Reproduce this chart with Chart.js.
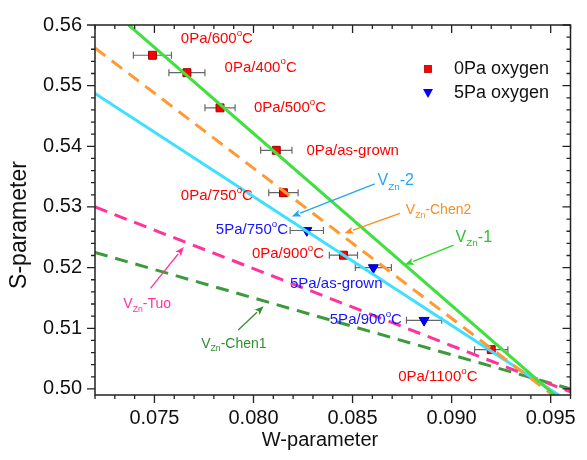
<!DOCTYPE html>
<html><head><meta charset="utf-8">
<script src="https://cdn.jsdelivr.net/npm/chart.js@4/dist/chart.umd.min.js"></script>
<style>html,body{margin:0;padding:0;background:#fff}</style>
</head><body>
<canvas id="c" width="587" height="460" style="width:587px;height:460px;display:block"></canvas>
<script>
// ---------- data ----------
const W_0Pa   = [0.07490, 0.07664, 0.07831, 0.08115, 0.08151, 0.08454, 0.09200];
const S_0Pa   = [0.55501, 0.55214, 0.54634, 0.53934, 0.53235, 0.52205, 0.50648];
const Werr_0Pa= [0.00096, 0.00091, 0.00076, 0.00079, 0.00074, 0.00071, 0.00084];
const W_5Pa   = [0.08269, 0.08605, 0.08861];
const S_5Pa   = [0.52612, 0.52000, 0.51131];
const Werr_5Pa= [0.00084, 0.00091, 0.00089];

const line_VZn1   = [[0.0737, 0.5600], [0.0952, 0.4990]];
const line_Chen2  = [[0.0720, 0.5562], [0.0951, 0.4990]];
const line_VZn2   = [[0.0720, 0.5487], [0.0954, 0.4990]];
const line_Tuo    = [[0.0720, 0.5300], [0.0960, 0.4995]];
const line_Chen1  = [[0.0720, 0.5225], [0.0960, 0.5000]];

const xTickLabels = [0.075, 0.080, 0.085, 0.090, 0.095];
const yTickLabels = [0.50, 0.51, 0.52, 0.53, 0.54, 0.55, 0.56];
const legendNames = ['0Pa oxygen', '5Pa oxygen'];

// point labels (data-space anchor: left edge, vertical centre)
const pointLabels = [
  {seg:[['0Pa/600'],['o','sup'],['C']], w:0.07633, s:0.55772, c:'#ff0000'},
  {seg:[['0Pa/400'],['o','sup'],['C']], w:0.07854, s:0.55300, c:'#ff0000'},
  {seg:[['0Pa/500'],['o','sup'],['C']], w:0.08002, s:0.54634, c:'#ff0000'},
  {seg:[['0Pa/as-grown']],              w:0.08267, s:0.53918, c:'#ff0000'},
  {seg:[['0Pa/750'],['o','sup'],['C']], w:0.07633, s:0.53186, c:'#ff0000'},
  {seg:[['5Pa/750'],['o','sup'],['C']], w:0.07810, s:0.52617, c:'#1414ff'},
  {seg:[['0Pa/900'],['o','sup'],['C']], w:0.07992, s:0.52226, c:'#ff0000'},
  {seg:[['5Pa/as-grown']],              w:0.08184, s:0.51738, c:'#1414ff'},
  {seg:[['5Pa/900'],['o','sup'],['C']], w:0.08385, s:0.51136, c:'#1414ff'},
  {seg:[['0Pa/1100'],['o','sup'],['C']],w:0.08730, s:0.50193, c:'#ff0000'}
];
// line labels with arrows
const lineLabels = [
  {seg:[['V'],['Zn','sub'],['-2']],     w:0.08626, s:0.53430, c:'#22a8f0', size:16, a:[0.08612,0.53381,0.08193,0.52844]},
  {seg:[['V'],['Zn','sub'],['-Chen2']], w:0.08769, s:0.52942, c:'#ff8c1a', size:14, a:[0.08739,0.52893,0.08459,0.52568]},
  {seg:[['V'],['Zn','sub'],['-1']],     w:0.09020, s:0.52503, c:'#33bb33', size:16, a:[0.09010,0.52372,0.08764,0.52047], ac:'#22dd22'},
  {seg:[['V'],['Zn','sub'],['-Tuo']],   w:0.07343, s:0.51396, c:'#ff3399', size:14, a:[0.07480,0.51657,0.07648,0.52340]},
  {seg:[['V'],['Zn','sub'],['-Chen1']], w:0.07736, s:0.50746, c:'#2f8f2f', size:14, a:[0.07923,0.50973,0.08051,0.51364]}
];

const FONT = '"Liberation Sans", Arial, sans-serif';

function pts(W, S) { return W.map((w, i) => ({x: w, y: S[i]})); }
function seg(l) { return l.map(p => ({x: p[0], y: p[1]})); }

function drawRich(ctx, segs, x, y, size, color) {
  ctx.save();
  ctx.fillStyle = color;
  ctx.textBaseline = 'middle';
  ctx.textAlign = 'left';
  let cx = x;
  for (const s of segs) {
    let fs = size, dy = 0;
    if (s[1] === 'sup') { fs = size * 0.65; dy = -size * 0.38; }
    if (s[1] === 'sub') { fs = size * 0.62; dy = size * 0.38; }
    ctx.font = fs + 'px ' + FONT;
    ctx.fillText(s[0], cx, y + dy);
    cx += ctx.measureText(s[0]).width;
  }
  ctx.restore();
}

const decor = {
  id: 'decor',
  beforeDatasetsDraw(chart) {
    const {ctx, scales: {x, y}} = chart;
    ctx.save();
    ctx.strokeStyle = '#666';
    ctx.lineWidth = 1.2;
    const bars = (W, S, E) => W.forEach((w, i) => {
      const x1 = x.getPixelForValue(w - E[i]), x2 = x.getPixelForValue(w + E[i]);
      const py = y.getPixelForValue(S[i]);
      ctx.beginPath();
      ctx.moveTo(x1, py); ctx.lineTo(x2, py);
      ctx.moveTo(x1, py - 3.5); ctx.lineTo(x1, py + 3.5);
      ctx.moveTo(x2, py - 3.5); ctx.lineTo(x2, py + 3.5);
      ctx.stroke();
    });
    bars(W_0Pa, S_0Pa, Werr_0Pa);
    bars(W_5Pa, S_5Pa, Werr_5Pa);
    ctx.restore();
  },
  afterDraw(chart) {
    const {ctx, chartArea: ca, scales: {x, y}} = chart;
    ctx.save();
    // frame
    ctx.strokeStyle = '#222';
    ctx.lineWidth = 1.5;
    ctx.strokeRect(ca.left, ca.top, ca.right - ca.left, ca.bottom - ca.top);
    // ticks
    ctx.lineWidth = 1.3;
    ctx.beginPath();
    for (let k = 72; k <= 96; k++) {
      const px = x.getPixelForValue(k / 1000);
      const L = (k % 5 === 0) ? 8 : 4;
      ctx.moveTo(px, ca.bottom); ctx.lineTo(px, ca.bottom + L);
      ctx.moveTo(px, ca.top); ctx.lineTo(px, ca.top + L);
    }
    for (let k = 500; k <= 560; k += 2) {
      const py = y.getPixelForValue(k / 1000);
      const L = (k % 10 === 0) ? 8 : 4;
      ctx.moveTo(ca.left, py); ctx.lineTo(ca.left - L, py);
      ctx.moveTo(ca.right, py); ctx.lineTo(ca.right - L, py);
    }
    ctx.stroke();
    // axis titles
    ctx.fillStyle = '#111';
    ctx.textAlign = 'center';
    ctx.textBaseline = 'middle';
    ctx.font = '20px ' + FONT;
    ctx.fillText('W-parameter', 320, 440);
    ctx.save();
    ctx.translate(20, 225);
    ctx.rotate(-Math.PI / 2);
    ctx.font = '23px ' + FONT;
    ctx.fillText('S-parameter', 0, 0);
    ctx.restore();
    // point labels
    for (const l of pointLabels) {
      drawRich(ctx, l.seg, x.getPixelForValue(l.w), y.getPixelForValue(l.s), 15, l.c);
    }
    // line labels + arrows
    for (const l of lineLabels) {
      drawRich(ctx, l.seg, x.getPixelForValue(l.w), y.getPixelForValue(l.s), l.size, l.c);
      const ax1 = x.getPixelForValue(l.a[0]), ay1 = y.getPixelForValue(l.a[1]);
      const ax2 = x.getPixelForValue(l.a[2]), ay2 = y.getPixelForValue(l.a[3]);
      const ang = Math.atan2(ay2 - ay1, ax2 - ax1);
      const col = l.ac || l.c;
      ctx.strokeStyle = col; ctx.fillStyle = col; ctx.lineWidth = 1.3;
      const hl = 9, hw = 3.6;
      const bx = ax2 - hl * Math.cos(ang), by = ay2 - hl * Math.sin(ang);
      ctx.beginPath(); ctx.moveTo(ax1, ay1); ctx.lineTo(bx, by); ctx.stroke();
      ctx.beginPath();
      ctx.moveTo(ax2, ay2);
      ctx.lineTo(bx - hw * Math.sin(ang), by + hw * Math.cos(ang));
      ctx.lineTo(bx + 2 * Math.cos(ang), by + 2 * Math.sin(ang));
      ctx.lineTo(bx + hw * Math.sin(ang), by - hw * Math.cos(ang));
      ctx.closePath(); ctx.fill();
    }
    // legend
    const lx = ca.left + 333, ly1 = ca.top + 44, ly2 = ca.top + 68;
    ctx.fillStyle = '#ff0000'; ctx.strokeStyle = '#b00000'; ctx.lineWidth = 0.8;
    ctx.fillRect(lx - 3.5, ly1 - 3.5, 7, 7); ctx.strokeRect(lx - 3.5, ly1 - 3.5, 7, 7);
    ctx.fillStyle = '#0000ff';
    ctx.beginPath(); ctx.moveTo(lx - 5, ly2 - 4); ctx.lineTo(lx + 5, ly2 - 4); ctx.lineTo(lx, ly2 + 5); ctx.closePath(); ctx.fill();
    ctx.fillStyle = '#111'; ctx.textAlign = 'left'; ctx.textBaseline = 'middle';
    ctx.font = '18px ' + FONT;
    ctx.fillText(legendNames[0], lx + 26, ly1);
    ctx.fillText(legendNames[1], lx + 26, ly2);
    ctx.restore();
  }
};

const lineDS = (data, color, dash) => ({
  data: seg(data), showLine: true, borderColor: color, borderWidth: 3,
  borderDash: dash || [], pointRadius: 0, fill: false, order: 0, borderCapStyle: 'butt'
});

new Chart(document.getElementById('c'), {
  type: 'scatter',
  data: {
    datasets: [
      lineDS(line_VZn1, '#3fe03f'),
      lineDS(line_Chen2, '#ff9933', [13, 8]),
      lineDS(line_VZn2, '#3ee0ff'),
      lineDS(line_Tuo, '#ff3399', [13, 8]),
      lineDS(line_Chen1, '#3c9a3c', [13, 8]),
      {label: legendNames[0], data: pts(W_0Pa, S_0Pa), pointStyle: 'rect', pointRadius: 5.6,
       backgroundColor: '#ff0000', borderColor: '#a00000', borderWidth: 1, order: 1},
      {label: legendNames[1], data: pts(W_5Pa, S_5Pa), pointStyle: 'triangle', rotation: 180, pointRadius: 5.8,
       backgroundColor: '#0000ff', borderColor: '#0000a0', borderWidth: 1, order: 1}
    ]
  },
  options: {
    responsive: false, animation: false, devicePixelRatio: 1,
    layout: {padding: {top: 20, right: 4, left: 0, bottom: 0}},
    plugins: {legend: {display: false}, tooltip: {enabled: false}},
    scales: {
      x: {
        type: 'linear', min: 0.072, max: 0.096,
        afterBuildTicks: s => { s.ticks = xTickLabels.map(v => ({value: v})); },
        afterFit: s => { s.height = 65; },
        ticks: {callback: v => v.toFixed(3), font: {size: 20, family: FONT}, color: '#111', padding: 11, maxRotation: 0, autoSkip: false},
        grid: {display: false, drawTicks: false}, border: {display: false}
      },
      y: {
        type: 'linear', min: 0.499, max: 0.56,
        afterBuildTicks: s => { s.ticks = yTickLabels.map(v => ({value: v})); },
        afterFit: s => { s.width = 95; },
        ticks: {callback: v => v.toFixed(2), font: {size: 20, family: FONT}, color: '#111', padding: 13, autoSkip: false},
        grid: {display: false, drawTicks: false}, border: {display: false}
      }
    }
  },
  plugins: [decor]
});
</script>
</body></html>
